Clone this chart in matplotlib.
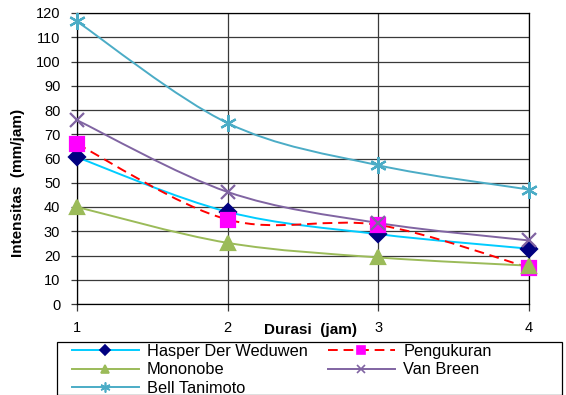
import matplotlib
matplotlib.use("Agg")
import matplotlib.pyplot as plt
from matplotlib.path import Path
from matplotlib.patches import PathPatch, Rectangle
from matplotlib.lines import Line2D
import numpy as np

plt.rcParams['font.family'] = ['Liberation Sans', 'DejaVu Sans']

durasi = [1, 2, 3, 4]
hasper = [60.5, 38.0, 28.8, 22.8]
pengukuran = [66.0, 34.8, 32.6, 15.0]
mononobe = [40.0, 25.2, 19.2, 15.8]
van_breen = [75.8, 46.2, 33.4, 26.2]
bell_tanimoto = [116.5, 74.6, 57.2, 47.2]

names = ["Hasper Der Weduwen", "Pengukuran", "Mononobe", "Van Breen", "Bell Tanimoto"]
yticks = list(range(0, 121, 10))
xticks = [1, 2, 3, 4]

W, H = 566, 395
fig = plt.figure(figsize=(W / 100, H / 100), dpi=100)
L, R, T, B = 77, 529, 13, 304
ax = fig.add_axes([L / W, 1 - B / H, (R - L) / W, (B - T) / H])


def smooth_path(xs, ys):
    pts = np.column_stack([xs, ys]).astype(float)
    n = len(pts)
    verts = [pts[0]]
    codes = [Path.MOVETO]
    for i in range(n - 1):
        p0 = pts[i - 1] if i > 0 else pts[i]
        p1 = pts[i]
        p2 = pts[i + 1]
        p3 = pts[i + 2] if i + 2 < n else pts[i + 1]
        c1 = p1 + (p2 - p0) / 6.0
        c2 = p2 - (p3 - p1) / 6.0
        verts += [c1, c2, p2]
        codes += [Path.CURVE4] * 3
    return Path(verts, codes)


series = [
    (hasper, dict(color='#00CCFF', ls='-', marker='D', mfc='#000080', mec='#000080', ms=8)),
    (pengukuran, dict(color='#FF0000', ls=(0, (5, 3)), marker='s', mfc='#FF00FF', mec='#FF00FF', ms=10)),
    (mononobe, dict(color='#9BBB59', ls='-', marker='^', mfc='#9BBB59', mec='#9BBB59', ms=10)),
    (van_breen, dict(color='#8064A2', ls='-', marker='x', mfc='#8064A2', mec='#8064A2', ms=10)),
    (bell_tanimoto, dict(color='#4BACC6', ls='-', marker=(6, 2, 0), mfc='#4BACC6', mec='#4BACC6', ms=12)),
]

handles = []
for (vals, st), name in zip(series, names):
    patch = PathPatch(smooth_path(durasi, vals), fill=False, edgecolor=st['color'],
                      linestyle=st['ls'], lw=1.4, zorder=3)
    ax.add_patch(patch)
    ax.plot(durasi, vals, ls='none', marker=st['marker'], ms=st['ms'], mfc=st['mfc'],
            mec=st['mec'], mew=1.6, zorder=4, clip_on=False)
    handles.append(Line2D([], [], color=st['color'], ls=st['ls'], lw=1.4, marker=st['marker'],
                          ms=st['ms'] * 0.6, mfc=st['mfc'], mec=st['mec'], mew=1.2, label=name))

ax.set_xlim(1, 4)
ax.set_ylim(0, 120)
ax.set_xticks(xticks)
ax.set_yticks(yticks)
ax.grid(True, color='#3a3a3a', lw=0.9, zorder=1)
for s in ax.spines.values():
    s.set_color('black')
    s.set_linewidth(0.9)
ax.tick_params(axis='x', direction='out', length=5, width=0.9, color='#3a3a3a', pad=7, labelsize=10.5)
ax.tick_params(axis='y', direction='out', length=4, width=0.9, color='#3a3a3a', pad=8, labelsize=10.5)

fig.text(310 / W, 1 - 330 / H, "Durasi  (jam)", ha='center', va='center', fontsize=11, fontweight='bold')
fig.text(18 / W, 1 - 183 / H, "Intensitas  (mm/jam)", ha='center', va='center', rotation=90,
         fontsize=11, fontweight='bold')

# legend frame
fig.patches.append(Rectangle((57 / W, 0), (562 - 57) / W, 1 - 342 / H, transform=fig.transFigure,
                             fill=False, edgecolor='black', lw=0.9))
order = [0, 2, 4, 1, 3]
leg = fig.legend([handles[i] for i in order], [names[i] for i in order], ncol=2,
                 loc='upper left', bbox_to_anchor=(70 / W, 1 - 342 / H), frameon=False,
                 fontsize=11.8, handlelength=4.1, handletextpad=0.5, columnspacing=1.22,
                 labelspacing=0.23, borderpad=0.1, borderaxespad=0)

fig.savefig("out.png", dpi=100)
